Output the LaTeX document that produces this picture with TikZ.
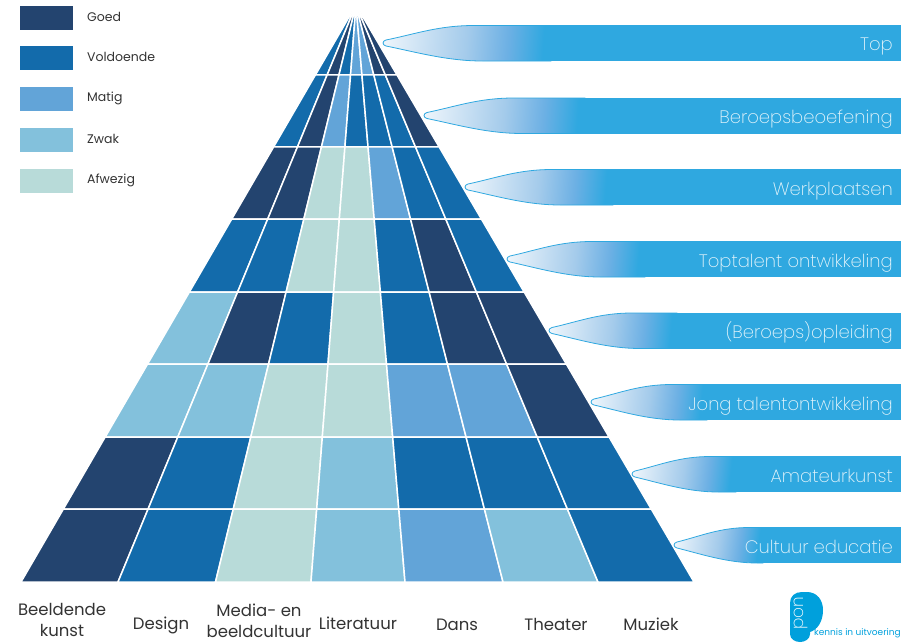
\documentclass[tikz,border=0pt]{standalone}
\usepackage{fontspec}
\setmainfont{Poppins}
\newfontfamily\thinfont{Poppins ExtraLight}
\usetikzlibrary{calc,positioning}
\definecolor{goed}{HTML}{23446F}
\definecolor{voldoende}{HTML}{136BAB}
\definecolor{matig}{HTML}{62A4D8}
\definecolor{zwak}{HTML}{83C1DC}
\definecolor{afwezig}{HTML}{B8DBD9}
\definecolor{barblue}{HTML}{2FA8E0}
\definecolor{logoblue}{HTML}{00A0DC}
\definecolor{labeltext}{HTML}{333333}
\definecolor{fademid}{HTML}{A4CBEB}
\definecolor{fadeend}{HTML}{6CB0E4}
\pgfdeclarehorizontalshading{barfade}{100bp}{color(0bp)=(white); color(18bp)=(white); color(50bp)=(fademid); color(63bp)=(fadeend); color(74bp)=(barblue); color(100bp)=(barblue)}
\tikzset{
    cell/.style={draw=white,line width=1.5pt},
    legendbox/.style={minimum width=53pt,minimum height=24pt,inner sep=0pt,anchor=north west},
    legendlabel/.style={anchor=west,inner sep=0pt,text=labeltext,font=\fontsize{12.5}{15}\selectfont},
    artlabel/.style={anchor=center,inner sep=0pt,align=center,text=labeltext,font=\fontsize{16.5}{21}\selectfont},
    barlabel/.style={anchor=base east,inner sep=0pt,text=white!88!barblue,font=\thinfont\fontsize{18}{22}\selectfont},
}
% one banner, tip at (#1,#2), fade over #5 pt
\newcommand{\pyrbanner}[5]{
    \pgfmathsetmacro{\barwidth}{901-#1}
    \pgfmathsetmacro{\fadewidth}{#5+15}
    \pgfmathsetmacro{\shoulder}{60+.2*#5}
    \pgfmathsetmacro{\fadeangle}{-atan(12/(#5+15))}
    \begin{scope}[shift={(#1,#2)}]
        \shade[shading=barfade,shading angle=\fadeangle,draw=barblue,line width=.8pt] (2,-3) .. controls (.35*\shoulder,-9) and (.6*\shoulder,-17.5) .. (\shoulder,-17.5) -- (\fadewidth,-17.5) -- (\fadewidth,18) -- (\shoulder+8,18) .. controls (.7*\shoulder,18) and (.35*\shoulder,9) .. (2,3) .. controls (-2,2) and (-2,-2) .. (2,-3) -- cycle;
        \fill[barblue] (\fadewidth-2,-17.9) rectangle (\barwidth,18.4);
        \node[barlabel] (#3) at (\barwidth-8,8) {#4};
    \end{scope}
}
\begin{document}
\begin{tikzpicture}[x=1pt,y=-1pt]
    \useasboundingbox (0,0) rectangle (901,642);
    \coordinate (apex) at (356,5);
    \coordinate (b0) at (21,582);
    \coordinate (b1) at (118,582);
    \coordinate (b2) at (215.5,582);
    \coordinate (b3) at (311,582);
    \coordinate (b4) at (405,582);
    \coordinate (b5) at (503,582);
    \coordinate (b6) at (598,582);
    \coordinate (b7) at (694,582);
    % pyramid, row by row from the top
    \foreach \ta/\tb/\rowcolors in {
        .0121/.1213/{voldoende,goed,voldoende,matig,matig,goed,goed},
        .1213/.2461/{voldoende,goed,matig,voldoende,voldoende,voldoende,goed},
        .2461/.3709/{goed,goed,afwezig,afwezig,matig,voldoende,voldoende},
        .3709/.4974/{voldoende,voldoende,afwezig,afwezig,voldoende,goed,voldoende},
        .4974/.6222/{zwak,goed,voldoende,afwezig,voldoende,goed,goed},
        .6222/.7487/{zwak,zwak,afwezig,afwezig,matig,matig,goed},
        .7487/.8735/{goed,voldoende,afwezig,zwak,voldoende,voldoende,voldoende},
        .8735/1/{goed,voldoende,afwezig,zwak,matig,zwak,voldoende}}{
        \foreach \cellcolor [count=\cn,remember=\cn as \cp (initially 0)] in \rowcolors {
            \filldraw[cell,fill=\cellcolor] ($(apex)!\ta!(b\cp)$) -- ($(apex)!\ta!(b\cn)$) -- ($(apex)!\tb!(b\cn)$) -- ($(apex)!\tb!(b\cp)$) -- cycle;
        }
    }
    % legend
    \node[legendbox,fill=goed] (boxgoed) at (20,5.5) {};
    \node[legendbox,fill=voldoende] (boxvoldoende) at (20,45.5) {};
    \node[legendbox,fill=matig] (boxmatig) at (20,86.5) {};
    \node[legendbox,fill=zwak] (boxzwak) at (20,127.5) {};
    \node[legendbox,fill=afwezig] (boxafwezig) at (20,168.5) {};
    \node[legendlabel] (goedlabel) at (87,17) {Goed};
    \node[legendlabel] (voldoendelabel) at (87,57) {Voldoende};
    \node[legendlabel] (matiglabel) at (87,98.5) {Matig};
    \node[legendlabel] (zwaklabel) at (87,139) {Zwak};
    \node[legendlabel] (afwezigLabel) at (87,180.5) {Afwezig};
    % banners
    \pyrbanner{384}{43}{top}{Top}{152}
    \pyrbanner{425}{115.5}{beroeps}{Beroepsbeoefening}{145}
    \pyrbanner{466}{187}{werkplaatsen}{Werkplaatsen}{132}
    \pyrbanner{508}{259}{toptalent}{Toptalent ontwikkeling}{122}
    \pyrbanner{550}{330.5}{opleiding}{(Beroeps)opleiding}{112}
    \pyrbanner{592}{402}{jongtalent}{Jong talentontwikkeling}{100}
    \pyrbanner{633}{474}{amateur}{Amateurkunst}{88}
    \pyrbanner{675}{545}{educatie}{Cultuur educatie}{73}
    % disciplines under the pyramid
    \node[artlabel] (beeldend) at (62,620) {Beeldende\\kunst};
    \node[artlabel] (design) at (161,625) {Design};
    \node[artlabel] (media) at (259,620.5) {Media- en\\beeldcultuur};
    \node[artlabel] (literatuur) at (358,623) {Literatuur};
    \node[artlabel] (dans) at (457,624.5) {Dans};
    \node[artlabel] (theater) at (556,624) {Theater};
    \node[artlabel] (muziek) at (651,624) {Muziek};
    % logo
    \fill[logoblue] (790,603) .. controls (790,596) and (795,592) .. (802,592) -- (807,592) .. controls (817,592) and (823,600) .. (823,610) .. controls (823,622) and (817,630) .. (810,632) -- (810,634) .. controls (810,639) and (805,642) .. (800,642) .. controls (795,642) and (790,639) .. (790,634) -- cycle;
    \node[rotate=90,text=white,inner sep=0pt,font=\thinfont\fontsize{17}{19}\selectfont] (pon) at (801,613) {pon};
    \node[anchor=west,inner sep=0pt,text=logoblue,font=\fontsize{9}{10}\selectfont] (pontag) at (814,633) {kennis in uitvoering};
\end{tikzpicture}
\end{document}
